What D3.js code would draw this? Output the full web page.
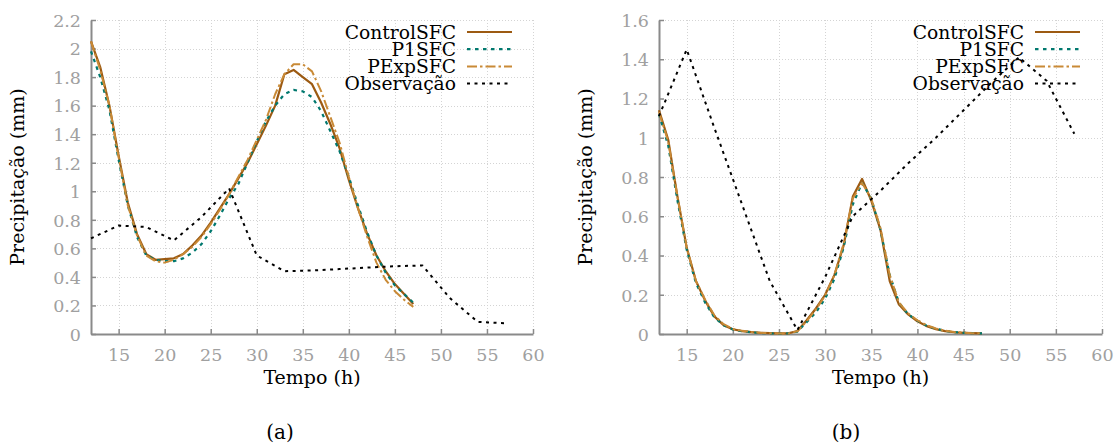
<!DOCTYPE html>
<html>
<head>
<meta charset="utf-8">
<script src="https://cdn.jsdelivr.net/npm/d3@7"></script>
<style>
  html, body { margin: 0; padding: 0; background: #fff; }
  svg { display: block; }
</style>
</head>
<body>
<svg id="chart" width="1120" height="446"></svg>
<script>
// Hourly model output (h) and 3-hourly observations (h)
const modelHours = [12,13,14,15,16,17,18,19,20,21,22,23,24,25,26,27,28,29,30,31,32,33,34,35,36,37,38,39,40,41,42,43,44,45,46,47];
const obsHours = [12,15,18,21,24,27,30,33,36,39,42,45,48,51,54,57];

// Panel (a)
const controlA = [2.05,1.87,1.60,1.25,0.92,0.70,0.56,0.52,0.525,0.53,0.56,0.62,0.69,0.78,0.88,0.98,1.09,1.20,1.33,1.46,1.60,1.82,1.85,1.80,1.75,1.62,1.47,1.30,1.08,0.88,0.70,0.55,0.44,0.35,0.28,0.21];
const p1A      = [1.98,1.80,1.57,1.22,0.90,0.68,0.55,0.52,0.51,0.51,0.53,0.57,0.63,0.72,0.83,0.95,1.05,1.20,1.35,1.49,1.60,1.68,1.71,1.70,1.66,1.56,1.42,1.28,1.10,0.90,0.71,0.55,0.43,0.34,0.28,0.22];
const pExpA    = [2.05,1.85,1.60,1.24,0.90,0.69,0.55,0.51,0.50,0.52,0.56,0.61,0.68,0.77,0.87,0.98,1.10,1.22,1.36,1.50,1.68,1.82,1.89,1.89,1.84,1.70,1.52,1.34,1.10,0.88,0.68,0.50,0.38,0.30,0.24,0.19];
const obsA     = [0.67,0.76,0.75,0.655,0.82,1.02,0.55,0.44,0.445,0.455,0.465,0.475,0.48,0.25,0.085,0.075];

// Panel (b)
const controlB = [1.14,0.99,0.70,0.44,0.27,0.17,0.09,0.045,0.024,0.015,0.01,0.006,0.004,0.003,0.003,0.015,0.07,0.13,0.20,0.30,0.45,0.70,0.79,0.68,0.53,0.27,0.15,0.10,0.065,0.04,0.025,0.015,0.009,0.006,0.004,0.003];
const p1B      = [1.12,0.96,0.68,0.43,0.26,0.16,0.085,0.045,0.023,0.014,0.009,0.005,0.003,0.002,0.003,0.012,0.06,0.11,0.18,0.28,0.44,0.66,0.77,0.69,0.53,0.30,0.16,0.10,0.068,0.042,0.027,0.016,0.01,0.006,0.004,0.003];
const pExpB    = [1.13,0.98,0.70,0.44,0.27,0.175,0.095,0.05,0.026,0.016,0.01,0.006,0.004,0.003,0.003,0.014,0.065,0.125,0.195,0.30,0.46,0.69,0.77,0.69,0.54,0.30,0.16,0.105,0.07,0.045,0.028,0.017,0.01,0.007,0.004,0.003];
const obsB     = [1.11,1.45,1.05,0.66,0.27,0.02,0.29,0.60,0.73,0.87,1.00,1.14,1.28,1.41,1.29,1.02];

// Axis ticks
const xTicks = [15,20,25,30,35,40,45,50,55,60];
const yTicksA = [0,0.2,0.4,0.6,0.8,1,1.2,1.4,1.6,1.8,2,2.2];
const yTicksB = [0,0.2,0.4,0.6,0.8,1,1.2,1.4,1.6];

const seriesNames = ["ControlSFC", "P1SFC", "PExpSFC", "Observação"];
const seriesStyle = [
  { color: "#9c5a12", dash: null,         width: 2.2 },
  { color: "#00786e", dash: "3.5,4.5",    width: 2.2 },
  { color: "#c98a36", dash: "10,3,2.5,3", width: 2.0 },
  { color: "#000000", dash: "3,4.5",      width: 2.0 }
];

const SERIF = '"DejaVu Serif", "Liberation Serif", "Noto Serif", "Times New Roman", serif';

const svg = d3.select("#chart");

function drawPanel(opts) {
  const { left, right, top, bottom, yMax, yTicks, series, caption, captionX } = opts;
  const g = svg.append("g").attr("font-family", SERIF);

  const x = d3.scaleLinear().domain([12, 60]).range([left, right]);
  const y = d3.scaleLinear().domain([0, yMax]).range([bottom, top]);

  // grid
  const grid = g.append("g").attr("stroke", "#d4d4d4").attr("stroke-width", 1)
    .attr("stroke-dasharray", "1,2");
  grid.selectAll("line.gx").data(xTicks).join("line")
    .attr("x1", d => Math.round(x(d)) + 0.5).attr("x2", d => Math.round(x(d)) + 0.5)
    .attr("y1", top).attr("y2", bottom);
  grid.selectAll("line.gy").data(yTicks.filter(d => d > 0)).join("line")
    .attr("x1", left).attr("x2", right)
    .attr("y1", d => Math.round(y(d)) + 0.5).attr("y2", d => Math.round(y(d)) + 0.5);

  // axes with inward ticks
  const xAxis = d3.axisBottom(x).tickValues(xTicks).tickSizeInner(-5).tickSizeOuter(0).tickPadding(10);
  const yAxis = d3.axisLeft(y).tickValues(yTicks).tickSizeInner(-5).tickSizeOuter(0).tickPadding(10)
    .tickFormat(d => String(+d.toFixed(1)));

  const gx = g.append("g").attr("transform", `translate(0,${bottom})`).call(xAxis);
  const gy = g.append("g").attr("transform", `translate(${left},0)`).call(yAxis);
  [gx, gy].forEach(a => {
    a.attr("font-family", SERIF).attr("font-size", 17.5);
    a.select(".domain").attr("stroke", "#8a8a8a").attr("stroke-width", 2);
    a.selectAll(".tick line").attr("stroke", "#8a8a8a").attr("stroke-width", 1.5);
    a.selectAll(".tick text").attr("fill", "#a0a0a0");
  });
  gx.selectAll(".tick text").attr("dy", "0.95em");
  gy.selectAll(".tick text").attr("dy", "0.36em");

  // series
  const line = d3.line().x(d => x(d[0])).y(d => y(d[1]));
  series.forEach((s, i) => {
    const st = seriesStyle[i];
    const pts = s.hours.map((h, k) => [h, s.values[k]]);
    g.append("path").datum(pts)
      .attr("d", line)
      .attr("fill", "none")
      .attr("stroke", st.color)
      .attr("stroke-width", st.width)
      .attr("stroke-dasharray", st.dash)
      .attr("stroke-linejoin", "round");
  });

  // legend
  const legX = opts.legendX;
  const leg = g.append("g");
  seriesNames.forEach((name, i) => {
    const cy = 32 + i * 17.2;
    leg.append("text")
      .attr("x", legX).attr("y", cy).attr("dy", "0.36em")
      .attr("text-anchor", "end")
      .attr("font-size", 18.7).attr("fill", "#000")
      .text(name);
    const st = seriesStyle[i];
    leg.append("line")
      .attr("x1", legX + 11).attr("x2", legX + 56)
      .attr("y1", cy).attr("y2", cy)
      .attr("stroke", st.color).attr("stroke-width", st.width)
      .attr("stroke-dasharray", st.dash);
  });

  // axis titles
  g.append("text")
    .attr("x", (left + right) / 2).attr("y", 384)
    .attr("text-anchor", "middle").attr("font-size", 19).attr("fill", "#000")
    .text("Tempo (h)");
  g.append("text")
    .attr("transform", `translate(${left - 67},${(top + bottom) / 2}) rotate(-90)`)
    .attr("text-anchor", "middle").attr("font-size", 19).attr("fill", "#000")
    .text("Precipitação (mm)");

  // caption
  g.append("text")
    .attr("x", captionX).attr("y", 439)
    .attr("text-anchor", "middle").attr("font-size", 20).attr("fill", "#000")
    .text(caption);
}

drawPanel({
  left: 91, right: 533, top: 20, bottom: 334, yMax: 2.2, yTicks: yTicksA,
  series: [
    { hours: modelHours, values: controlA },
    { hours: modelHours, values: p1A },
    { hours: modelHours, values: pExpA },
    { hours: obsHours, values: obsA }
  ],
  legendX: 456, caption: "(a)", captionX: 280
});

drawPanel({
  left: 659, right: 1102, top: 20, bottom: 334, yMax: 1.6, yTicks: yTicksB,
  series: [
    { hours: modelHours, values: controlB },
    { hours: modelHours, values: p1B },
    { hours: modelHours, values: pExpB },
    { hours: obsHours, values: obsB }
  ],
  legendX: 1024, caption: "(b)", captionX: 846
});
</script>
</body>
</html>
